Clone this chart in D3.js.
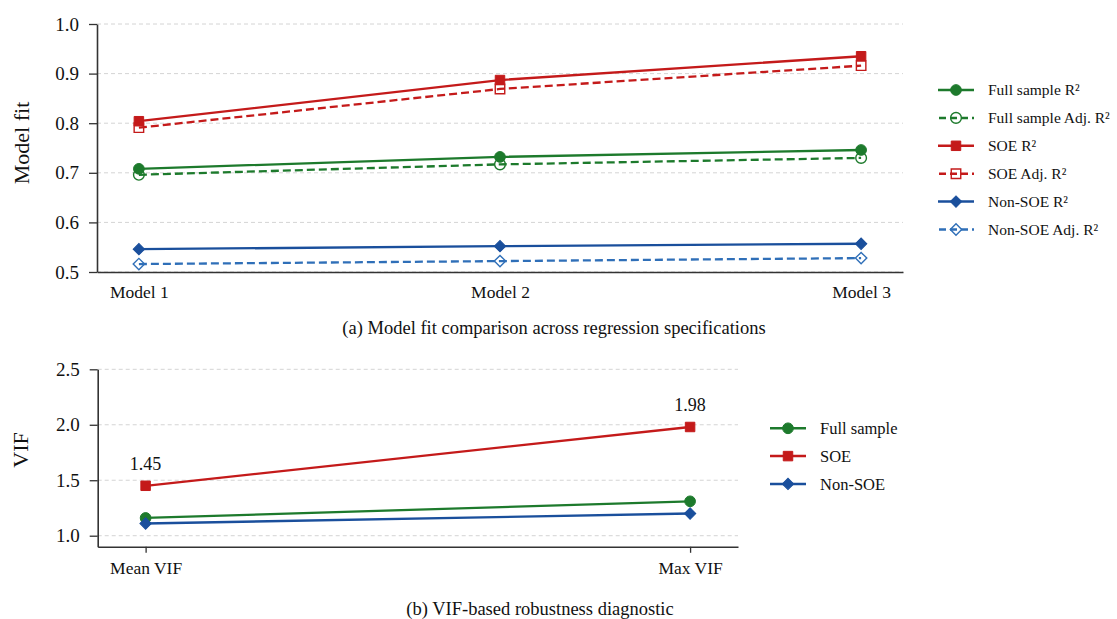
<!DOCTYPE html>
<html>
<head>
    <title>Model fit and VIF</title>
    <script src="https://d3js.org/d3.v7.min.js"></script>
    <style>
        body { margin: 0; background: #fff; }
        svg text { font-family: "Liberation Serif", "DejaVu Serif", serif; fill: #111; }
    </style>
</head>
<body>
    <svg class="chart" width="1117" height="619"></svg>

    <script>
// Panel (a): model fit
const models = ["Model 1", "Model 2", "Model 3"];
const fullR2 = [0.708, 0.732, 0.746];
const fullAdjR2 = [0.696, 0.717, 0.730];
const soeR2 = [0.804, 0.887, 0.935];
const soeAdjR2 = [0.791, 0.869, 0.916];
const nonSoeR2 = [0.546, 0.552, 0.557];
const nonSoeAdjR2 = [0.516, 0.522, 0.528];
const fitTicks = [0.5, 0.6, 0.7, 0.8, 0.9, 1.0];

// Panel (b): VIF
const vifMeasures = ["Mean VIF", "Max VIF"];
const vifFull = [1.16, 1.31];
const vifSoe = [1.45, 1.98];
const vifNonSoe = [1.11, 1.20];
const vifTicks = [1.0, 1.5, 2.0, 2.5];
const vifLabels = ["1.45", "1.98"];

const GREEN = '#1d7a2c', RED = '#c41a1a', BLUE = '#1a4f9c';
const BLUE_LIGHT = '#2f6fb8';

function markerPath(shape, size) {
    if (shape === 'circle') return d3.symbol(d3.symbolCircle, size)();
    if (shape === 'square') return d3.symbol(d3.symbolSquare, size)();
    return d3.symbol(d3.symbolSquare, size * 0.72)();
}

function drawMarker(g, shape, x, y, color, hollow, size) {
    g.append('path')
        .attr('d', markerPath(shape, size))
        .attr('transform', `translate(${x},${y})` + (shape === 'diamond' ? ' rotate(45)' : ''))
        .attr('fill', hollow ? 'none' : color)
        .attr('stroke', color)
        .attr('stroke-width', hollow ? 1.4 : 1);
}

function drawPanel(svg, cfg) {
    const x = d3.scalePoint().domain(cfg.cats).range(cfg.xRange).padding(cfg.pad);
    const y = d3.scaleLinear().domain(cfg.yDomain).range(cfg.yRange);

    // grid
    svg.append('g').selectAll('line')
        .data(cfg.ticks)
        .enter().append('line')
        .attr('x1', cfg.xRange[0]).attr('x2', cfg.xRange[1])
        .attr('y1', d => y(d)).attr('y2', d => y(d))
        .attr('stroke', '#d4d4d4')
        .attr('stroke-dasharray', '4,3')
        .attr('stroke-width', 1);

    // series
    cfg.series.forEach(s => {
        const pts = s.values.map((v, i) => [x(cfg.cats[i]), y(v)]);
        svg.append('path')
            .attr('d', d3.line()(pts))
            .attr('fill', 'none')
            .attr('stroke', s.color)
            .attr('stroke-width', 2.3)
            .attr('stroke-dasharray', s.dashed ? '8,4' : null);
        const mg = svg.append('g');
        pts.forEach(p => drawMarker(mg, s.shape, p[0], p[1], s.color, s.dashed, cfg.markerSize));
    });

    // axes
    const yAxis = svg.append('g')
        .attr('transform', `translate(${cfg.xRange[0]},0)`)
        .call(d3.axisLeft(y).tickValues(cfg.ticks).tickFormat(d3.format('.1f')).tickSize(8).tickSizeOuter(0).tickPadding(10));
    const xAxis = svg.append('g')
        .attr('transform', `translate(0,${cfg.yRange[0]})`)
        .call(d3.axisBottom(x).tickSize(cfg.xTickSize).tickSizeOuter(0).tickPadding(cfg.xTickPad));
    [yAxis, xAxis].forEach(a => {
        a.select('.domain').attr('stroke', '#333').attr('stroke-width', 1.6);
        a.selectAll('.tick line').attr('stroke', '#333').attr('stroke-width', 1.3);
        a.selectAll('text').attr('fill', '#111').style('font-family', '"Liberation Serif", serif');
    });
    yAxis.selectAll('text').style('font-size', '19px');
    xAxis.selectAll('text').style('font-size', '17.5px');

    // y title
    svg.append('text')
        .attr('transform', `translate(${cfg.titleX},${cfg.titleY}) rotate(-90)`)
        .attr('text-anchor', 'middle')
        .style('font-size', '22px')
        .text(cfg.yTitle);

    // legend
    const lg = svg.append('g');
    cfg.series.forEach((s, i) => {
        const ly = cfg.legend.y + i * cfg.legend.step;
        lg.append('line')
            .attr('x1', cfg.legend.x0).attr('x2', cfg.legend.x1)
            .attr('y1', ly).attr('y2', ly)
            .attr('stroke', s.color).attr('stroke-width', 2.5)
            .attr('stroke-dasharray', s.dashed ? '7,4' : null)
            .attr('stroke-dashoffset', s.dashed ? -1 : null);
        drawMarker(lg, s.shape, (cfg.legend.x0 + cfg.legend.x1) / 2, ly, s.color, s.dashed, cfg.markerSize);
        lg.append('text')
            .attr('x', cfg.legend.tx).attr('y', ly)
            .attr('dy', '0.35em')
            .style('font-size', cfg.legend.font)
            .text(s.name);
    });

    // caption
    svg.append('text')
        .attr('x', cfg.caption.x).attr('y', cfg.caption.y)
        .attr('text-anchor', 'middle')
        .style('font-size', '18.5px')
        .text(cfg.caption.text);

    return { x, y };
}

const svg = d3.select('.chart');

drawPanel(svg, {
    cats: models,
    xRange: [97, 903], pad: 0.116,
    yDomain: [0.5, 1.0], yRange: [272, 24],
    ticks: fitTicks,
    xTickSize: 0, xTickPad: 14,
    markerSize: 90,
    yTitle: 'Model fit', titleX: 29, titleY: 143,
    series: [
        { name: 'Full sample R\u00b2', values: fullR2, color: GREEN, shape: 'circle', dashed: false },
        { name: 'Full sample Adj. R\u00b2', values: fullAdjR2, color: GREEN, shape: 'circle', dashed: true },
        { name: 'SOE R\u00b2', values: soeR2, color: RED, shape: 'square', dashed: false },
        { name: 'SOE Adj. R\u00b2', values: soeAdjR2, color: RED, shape: 'square', dashed: true },
        { name: 'Non-SOE R\u00b2', values: nonSoeR2, color: BLUE, shape: 'diamond', dashed: false },
        { name: 'Non-SOE Adj. R\u00b2', values: nonSoeAdjR2, color: BLUE_LIGHT, shape: 'diamond', dashed: true }
    ],
    legend: { x0: 938, x1: 974, tx: 988, y: 90, step: 27.9, font: '15.5px' },
    caption: { x: 554, y: 334, text: '(a)  Model fit comparison across regression specifications' }
});

const vif = drawPanel(svg, {
    cats: vifMeasures,
    xRange: [97.7, 738], pad: 0.088,
    yDomain: [0.9, 2.5], yRange: [546.8, 369.3],
    ticks: vifTicks,
    xTickSize: 6, xTickPad: 9,
    markerSize: 90,
    yTitle: 'VIF', titleX: 28, titleY: 450,
    series: [
        { name: 'Full sample', values: vifFull, color: GREEN, shape: 'circle', dashed: false },
        { name: 'SOE', values: vifSoe, color: RED, shape: 'square', dashed: false },
        { name: 'Non-SOE', values: vifNonSoe, color: BLUE, shape: 'diamond', dashed: false }
    ],
    legend: { x0: 770, x1: 806, tx: 820, y: 428.3, step: 27.8, font: '16.5px' },
    caption: { x: 540, y: 615, text: '(b)  VIF-based robustness diagnostic' }
});

// value labels above SOE points
svg.append('g').selectAll('text')
    .data(vifSoe)
    .enter().append('text')
    .attr('x', (d, i) => vif.x(vifMeasures[i]))
    .attr('y', d => vif.y(d) - 16)
    .attr('text-anchor', 'middle')
    .style('font-size', '18px')
    .text((d, i) => vifLabels[i]);
    </script>
</body>
</html>
